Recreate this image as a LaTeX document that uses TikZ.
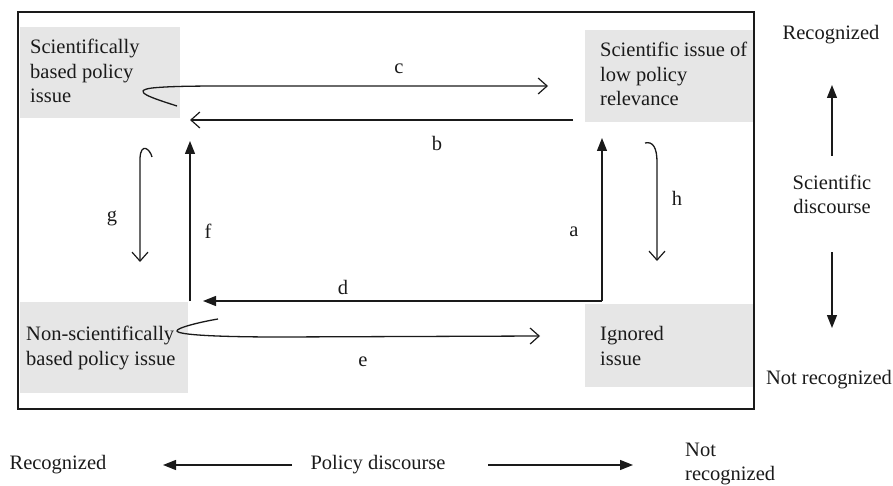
\documentclass[tikz,border=0pt]{standalone}
\usepackage{fontspec}
\setmainfont{Liberation Serif}
\usetikzlibrary{arrows.meta}
\definecolor{boxgray}{HTML}{E6E6E6}
\definecolor{ink}{HTML}{1A1A1A}
\begin{document}
\begin{tikzpicture}[x=1pt,y=-1pt,
  every node/.style={text=ink},
  issue/.style={fill=boxgray, draw=none, anchor=north west, inner sep=0pt},
  itxt/.style={anchor=west, align=left, inner sep=0pt,
    font=\fontsize{20.5}{24.5}\selectfont},
  lbl/.style={font=\fontsize{20.5}{24}\selectfont, inner sep=0pt, align=center},
  ln/.style={line width=1.3pt, draw=ink},
  openhead/.style={ln, -{Straight Barb[length=9pt,width=16pt,line width=1.2pt]}},
  solidhead/.style={ln, -{Triangle[length=13pt,width=10pt]}}]
\useasboundingbox (0,0) rectangle (893,486);
% frame
\draw[line width=2pt, draw=ink] (18,12) rectangle (754,409);
% issue boxes
\node[issue, minimum width=160pt, minimum height=91pt] (sbp) at (20,27) {};
\node[issue, minimum width=168pt, minimum height=92pt] (slp) at (585,30) {};
\node[issue, minimum width=168pt, minimum height=91pt] (nsp) at (20,302) {};
\node[issue, minimum width=168pt, minimum height=83pt] (ign) at (585,304) {};
\node[itxt] (sbpT) at (30,71) {Scientifically\\based policy\\issue};
\node[itxt] (slpT) at (600,74) {Scientific issue of\\low policy\\relevance};
\node[itxt] (nspT) at (26,348) {Non-scientifically\\based policy issue};
\node[itxt] (ignT) at (600,346) {Ignored\\issue};
% coordinates
\coordinate (cS) at (177,106);
\coordinate (cE) at (548,86);
\coordinate (bS) at (573,120);
\coordinate (bE) at (190,120);
\coordinate (corner) at (602,301);
\coordinate (aE) at (602,138);
\coordinate (dE) at (203,301);
\coordinate (fS) at (190,301);
\coordinate (fE) at (190,141);
\coordinate (gS) at (152,157);
\coordinate (gE) at (140,262);
\coordinate (hS) at (645,143);
\coordinate (hE) at (657,261);
\coordinate (eS) at (218,319);
\coordinate (eE) at (540,336);
% connectors
\draw[openhead] (cS) .. controls (152,98) and (130,91) .. (152,88)
  .. controls (172,86) and (200,86) .. (240,86) -- (cE);
\draw[openhead] (bS) -- (bE);
\draw[solidhead] (corner) -- (aE);
\draw[solidhead] (corner) -- (dE);
\draw[solidhead] (fS) -- (fE);
\draw[openhead] (gS) .. controls (150,149) and (141,142) .. (140,158) -- (gE);
\draw[openhead] (hS) .. controls (653,141) and (657,148) .. (657,162) -- (hE);
\draw[openhead] (eS) .. controls (200,322) and (176,328) .. (177,331)
  .. controls (178,335) and (220,337) .. (280,337) -- (eE);
% labels
\node[lbl] (lc) at (399,69) {c};
\node[lbl] (lb) at (437,143) {b};
\node[lbl] (la) at (574,232) {a};
\node[lbl] (ld) at (343,287) {d};
\node[lbl] (lf) at (208,231) {f};
\node[lbl] (lg) at (112,218) {g};
\node[lbl] (lh) at (677,198) {h};
\node[lbl] (le) at (363,362) {e};
% right axis
\node[lbl] (rrec) at (831,35) {Recognized};
\node[lbl] (sdis) at (832,194) {Scientific\\discourse};
\node[lbl] (rnot) at (829,380) {Not recognized};
\coordinate (upS) at (832,156);
\coordinate (upE) at (832,85);
\coordinate (dnS) at (832,252);
\coordinate (dnE) at (832,328);
\draw[solidhead] (upS) -- (upE);
\draw[solidhead] (dnS) -- (dnE);
% bottom axis
\node[lbl] (brec) at (58,465) {Recognized};
\node[lbl] (pdis) at (378,465) {Policy discourse};
\node[lbl, anchor=west, align=left] (bnot) at (685,464) {Not\\recognized};
\coordinate (lS) at (292,465);
\coordinate (lE) at (163,465);
\coordinate (rS) at (488,465);
\coordinate (rE) at (633,465);
\draw[solidhead] (lS) -- (lE);
\draw[solidhead] (rS) -- (rE);
\end{tikzpicture}
\end{document}
